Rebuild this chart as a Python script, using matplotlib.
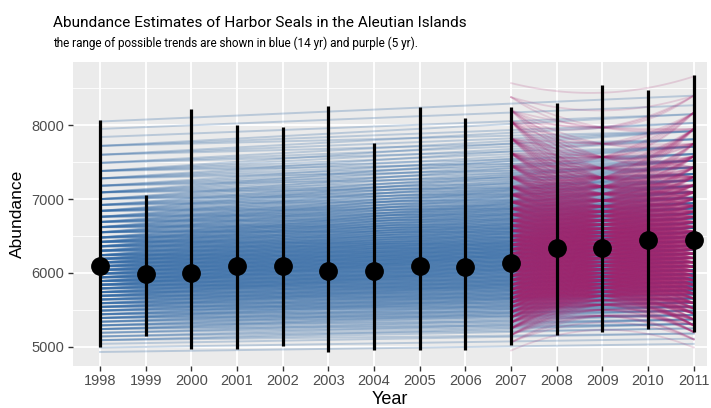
import numpy as np
import matplotlib
matplotlib.use("Agg")
import matplotlib.pyplot as plt

plt.rcParams['font.family'] = ['Liberation Sans', 'DejaVu Sans']

# survey estimates with 95% intervals
years = list(range(1998, 2012))
abundance = [6090, 5980, 5995, 6100, 6095, 6030, 6020, 6100, 6080, 6135, 6340, 6340, 6445, 6440]
lower = [5000, 5150, 4970, 4965, 5010, 4930, 4955, 4955, 4955, 5025, 5160, 5205, 5235, 5205]
upper = [8070, 7050, 8215, 8005, 7980, 8265, 7760, 8240, 8100, 8250, 8305, 8550, 8475, 8680]

# levels of the 14 yr trend draws at both ends (1998, 2011)
blue_1998 = [4930, 4990, 5040, 5090, 5140, 5190, 5240, 5290, 5340, 5390,
             5440, 5490, 5540, 5590, 5640, 5690, 5740, 5790, 5840, 5890,
             5940, 5990, 6040, 6090, 6140, 6190, 6240, 6300, 6360, 6420,
             6480, 6550, 6620, 6690, 6760, 6840, 6920, 7000, 7090, 7180,
             7280, 7380, 7490, 7600, 7720, 7840, 7950, 8050]
blue_2011 = [5040, 5110, 5180, 5250, 5310, 5370, 5430, 5490, 5545, 5600,
             5655, 5710, 5765, 5820, 5875, 5930, 5985, 6040, 6095, 6150,
             6205, 6260, 6315, 6370, 6430, 6490, 6550, 6610, 6675, 6740,
             6805, 6875, 6945, 7020, 7095, 7175, 7255, 7340, 7430, 7520,
             7610, 7710, 7810, 7920, 8030, 8150, 8270, 8400]

# levels of the 5 yr trend draws (2007, 2009, 2011)
purple_2007 = [4950, 5060, 5160, 5250, 5330, 5400, 5470, 5540, 5600, 5660,
               5720, 5780, 5840, 5900, 5960, 6020, 6080, 6140, 6200, 6260,
               6320, 6380, 6440, 6500, 6570, 6640, 6710, 6790, 6870, 6960,
               7060, 7170, 7300, 7450, 7620, 7820, 8050, 8200, 8380, 8570]
purple_2009 = [5230, 5330, 5420, 5500, 5570, 5630, 5690, 5745, 5800, 5850,
               5900, 5950, 6000, 6050, 6100, 6150, 6200, 6250, 6300, 6350,
               6400, 6450, 6500, 6550, 6600, 6655, 6710, 6770, 6830, 6900,
               6980, 7070, 7170, 7290, 7420, 7570, 7750, 7970, 8200, 8440]
purple_2011 = [4990, 5100, 5200, 5290, 5370, 5450, 5520, 5590, 5655, 5720,
               5780, 5840, 5900, 5960, 6020, 6080, 6140, 6200, 6260, 6320,
               6380, 6440, 6500, 6560, 6625, 6690, 6760, 6830, 6910, 7000,
               7090, 7190, 7300, 7430, 7580, 7750, 7950, 8170, 8400, 8660]

blue = "#336AA6"
purple = "#A5246E"

fig = plt.figure(figsize=(7.11, 4.08), dpi=100)
ax = fig.add_axes([0.1023, 0.1029, 0.8927, 0.7459])
ax.set_facecolor("#EBEBEB")

# 14 yr draws: fewer crossings out in the tails
n = len(blue_1998)
xs, ys = [], []
for i in range(n):
    k = min(6, i // 3, (n - 1 - i) // 3)
    for d in range(-k, k + 1):
        xs.append([1998, 2011])
        ys.append([blue_1998[i], blue_2011[i + d]])
ax.plot(np.array(xs).T, np.array(ys).T, color=blue, lw=1.4, alpha=0.27, zorder=2)

# 5 yr draws: quadratic through the three levels
m = len(purple_2007)
tt = np.linspace(2007, 2011, 40)
xs, ys = [], []
for i in range(m):
    k = min(3, i // 2, (m - 1 - i) // 2)
    for d1 in range(-k, k + 1):
        for d2 in range(-k, k + 1, 2):
            c = np.polyfit([2007, 2009, 2011],
                           [purple_2007[i + d1], purple_2009[i], purple_2011[i + d2]], 2)
            xs.append(tt)
            ys.append(np.polyval(c, tt))
ax.plot(np.array(xs).T, np.array(ys).T, color=purple, lw=1.3, alpha=0.17, zorder=3)

ax.vlines(years, lower, upper, color="black", lw=2.3, zorder=4)
ax.plot(years, abundance, "o", color="black", ms=12.5, zorder=5)

ax.set_xlim(1997.4, 2011.3)
ax.set_ylim(4740, 8860)
ax.set_xticks(years)
ax.set_yticks([5000, 6000, 7000, 8000])
ax.set_yticks([5500, 6500, 7500, 8500], minor=True)
ax.grid(which="major", color="white", lw=1.3, zorder=0)
ax.grid(which="minor", axis="y", color="white", lw=0.6, zorder=0)
ax.set_axisbelow(True)
for s in ax.spines.values():
    s.set_visible(False)
ax.tick_params(which="major", length=3.5, width=1, color="#333333",
               labelcolor="#4D4D4D", labelsize=10.5, pad=2.5)
ax.tick_params(which="minor", length=0)

ax.set_xlabel("Year", fontsize=13, labelpad=2)
ax.set_ylabel("Abundance", fontsize=12.5, labelpad=5)

fig.text(53 / 711, 1 - 27 / 408, "Abundance Estimates of Harbor Seals in the Aleutian Islands",
         fontsize=11.1, ha="left", va="baseline", family="Roboto")
fig.text(53 / 711, 1 - 47 / 408, "the range of possible trends are shown in blue (14 yr) and purple (5 yr).",
         fontsize=8.5, ha="left", va="baseline", family="Roboto")

fig.savefig("out.png", dpi=100)
